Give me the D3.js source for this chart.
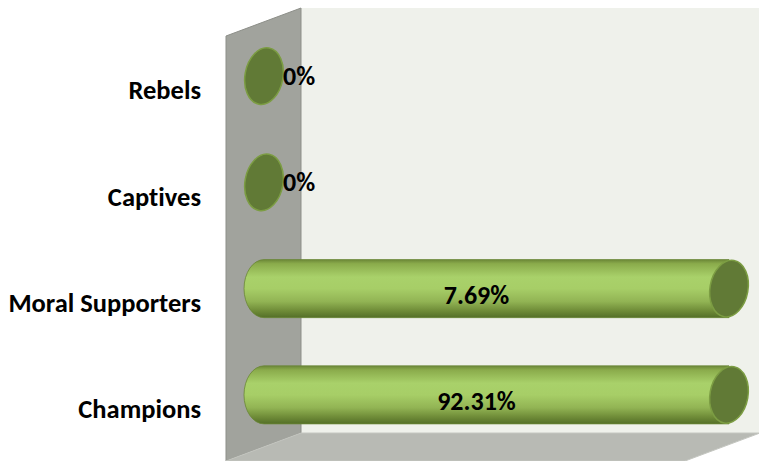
<!DOCTYPE html>
<html>
<head>
<meta charset="utf-8">
<script src="https://cdn.jsdelivr.net/npm/d3@7"></script>
<style>
  body { margin: 0; background: #ffffff; }
  svg { display: block; }
  .cat-label, .val-label {
    font-family: Carlito, Lato, "Open Sans", sans-serif;
    font-weight: bold;
    font-variant-ligatures: none;
    fill: #000;
  }
</style>
</head>
<body>
<svg id="chart" width="759" height="461"></svg>
<script>
// chart data
var categories = ['Rebels', 'Captives', 'Moral Supporters', 'Champions'];
var values = [0, 0, 7.69, 92.31];
var valueLabels = ['0%', '0%', '7.69%', '92.31%'];

var width = 759,
    height = 461,
    depth = { dx: 75, dy: 28 },         // 3D offset front -> back
    back = { left: 301, top: 8, right: 760, bottom: 433 },
    rx = 20;                             // end cap half width

var svg = d3.select('#chart');

// 100% stacked with a single series: each non-zero row fills the axis
var shares = values.map(function(v) { return v > 0 ? v / v : 0; });

var x = d3.scaleLinear()
    .domain([0, 1])
    .range([264, 729]);

var y = d3.scaleBand()
    .domain(categories)
    .range([23, 448])
    .paddingInner(0.454)
    .paddingOuter(0.227);

var defs = svg.append('defs');
var grad = defs.append('linearGradient')
    .attr('id', 'cyl')
    .attr('x1', 0).attr('y1', 0).attr('x2', 0).attr('y2', 1);
[
    [0, '#6c8838'], [0.07, '#8aab4b'], [0.3, '#a9d16a'], [0.5, '#a7ce67'],
    [0.72, '#92b454'], [0.88, '#6f8c38'], [1, '#546f28']
].forEach(function(s) {
    grad.append('stop').attr('offset', s[0]).attr('stop-color', s[1]);
});

// walls
svg.append('rect')
    .attr('x', back.left).attr('y', back.top)
    .attr('width', back.right - back.left).attr('height', back.bottom - back.top)
    .attr('fill', '#eff1eb');

svg.append('polygon')
    .attr('points', [
        [back.left, back.top],
        [back.left, back.bottom],
        [back.left - depth.dx, back.bottom + depth.dy],
        [back.left - depth.dx, back.top + depth.dy]
    ].join(' '))
    .attr('fill', '#a1a39d')
    .attr('stroke', '#8d8f89')
    .attr('stroke-width', 1);

svg.append('polygon')
    .attr('points', [
        [back.left, back.bottom],
        [back.right, back.bottom],
        [back.right - depth.dx, back.bottom + depth.dy],
        [back.left - depth.dx, back.bottom + depth.dy]
    ].join(' '))
    .attr('fill', '#b8bab4')
    .attr('stroke', '#c4c6c0')
    .attr('stroke-width', 1);

// cylinders
var bars = svg.selectAll('g.bar')
    .data(categories.map(function(c, i) {
        return { cat: c, share: shares[i], label: valueLabels[i] };
    }))
    .enter().append('g')
    .attr('class', 'bar');

bars.filter(function(d) { return d.share > 0; })
    .append('path')
    .attr('d', function(d) {
        var x0 = x(0), x1 = x(d.share),
            top = y(d.cat), bottom = y(d.cat) + y.bandwidth(),
            ry = y.bandwidth() / 2;
        return 'M' + x0 + ',' + top + 'L' + x1 + ',' + top +
               'L' + x1 + ',' + bottom + 'L' + x0 + ',' + bottom +
               'A' + rx + ',' + ry + ' 0 0 1 ' + x0 + ',' + top + 'Z';
    })
    .attr('fill', 'url(#cyl)')
    .attr('stroke', '#6a8636')
    .attr('stroke-width', 0.8);

bars.append('ellipse')
    .attr('transform', function(d) {
        return 'translate(' + x(d.share) + ',' + (y(d.cat) + y.bandwidth() / 2) + ') rotate(10)';
    })
    .attr('rx', rx - 1)
    .attr('ry', y.bandwidth() / 2 - 0.5)
    .attr('fill', '#617a36')
    .attr('stroke', '#7c9d43')
    .attr('stroke-width', 1.5);

// value labels
bars.append('text')
    .attr('class', 'val-label')
    .attr('x', function(d) { return d.share > 0 ? x(d.share / 2) - 20 : x(0) + 19; })
    .attr('y', function(d) { return y(d.cat) + y.bandwidth() / 2 + (d.share > 0 ? 6 : 0); })
    .attr('dy', '0.35em')
    .attr('text-anchor', function(d) { return d.share > 0 ? 'middle' : 'start'; })
    .style('font-size', '26px')
    .text(function(d) { return d.label; });

// category labels
svg.selectAll('text.cat-label')
    .data(categories)
    .enter().append('text')
    .attr('class', 'cat-label')
    .attr('x', 201)
    .attr('y', function(d) { return y(d) + y.bandwidth() / 2 + 14; })
    .attr('dy', '0.35em')
    .attr('text-anchor', 'end')
    .style('font-size', '26.5px')
    .text(function(d) { return d; });
</script>
</body>
</html>
